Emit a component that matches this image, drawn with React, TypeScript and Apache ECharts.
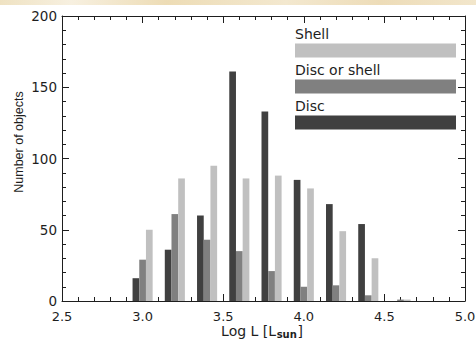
import React, { useEffect, useRef } from "react";
import * as echarts from "echarts";

// Data
const logL = [3.0, 3.2, 3.4, 3.6, 3.8, 4.0, 4.2, 4.4, 4.6];
const disc = [16, 36, 60, 161, 133, 85, 68, 54, 0];
const discOrShell = [29, 61, 43, 35, 21, 10, 11, 4, 1];
const shell = [50, 86, 95, 86, 88, 79, 49, 30, 1];

const barNames = ["Disc", "Disc or shell", "Shell"];
const barColors = ["#404040", "#808080", "#c0c0c0"];
const legendOrder = ["Shell", "Disc or shell", "Disc"];

const xTitleParts = ["Log L [L", "sun", "]"];
const yTitle = "Number of objects";

const xMin = 2.5;
const xMax = 5.0;
const xStep = 0.5;
const yMin = 0;
const yMax = 200;
const yStep = 50;

const FONT = "'DejaVu Sans', Verdana, sans-serif";
const FONT2 = "'Liberation Sans', Arial, Helvetica, sans-serif";
const INK = "#1e1e1e";

function measure(text: string, font: string): number {
  const c = document.createElement("canvas").getContext("2d");
  if (!c) return text.length * 8;
  c.font = font;
  return c.measureText(text).width;
}

export default function App() {
  const ref = useRef<HTMLDivElement>(null);

  useEffect(() => {
    if (!ref.current) return;
    const chart = echarts.init(ref.current, undefined, { renderer: "svg" });

    const seriesValues = [disc, discOrShell, shell];

    const axisCommon = {
      axisLine: { show: true, onZero: false, lineStyle: { color: INK, width: 1 } },
      axisTick: { show: true, inside: true, length: 7, lineStyle: { color: INK } },
      minorTick: { show: true, splitNumber: 5, length: 4, lineStyle: { color: INK } },
      splitLine: { show: false },
      minorSplitLine: { show: false },
    };

    const legendGraphics: any[] = [];
    legendOrder.forEach((name, i) => {
      const color = barColors[barNames.indexOf(name)];
      legendGraphics.push({
        type: "text",
        x: 295,
        y: 33.5 + i * 36,
        style: { text: name, fill: INK, font: `14px ${FONT}`, align: "left", verticalAlign: "middle" },
        z: 10,
      });
      legendGraphics.push({
        type: "rect",
        shape: { x: 295, y: 43.5 + i * 36, width: 161, height: 14 },
        style: { fill: color },
        z: 10,
      });
    });

    // x-axis title built from three pieces (main, subscript, main)
    const mainFont = `14px ${FONT}`;
    const subFont = `bold 10px ${FONT}`;
    const fonts = [mainFont, subFont, mainFont];
    const widths = xTitleParts.map((t, i) => measure(t, fonts[i]));
    const gap = 0.6;
    const total = widths.reduce((a, b) => a + b, 0) + gap * 2;
    let cx = 262 - total / 2;
    const titleGraphics: any[] = xTitleParts.map((t, i) => {
      const el = {
        type: "text",
        x: cx,
        y: i === 1 ? 334 : 331,
        style: { text: t, fill: INK, font: fonts[i], align: "left", verticalAlign: "middle" },
        z: 10,
      };
      cx += widths[i] + gap;
      return el;
    });

    chart.setOption({
      animation: false,
      backgroundColor: "#ffffff",
      textStyle: { fontFamily: FONT },
      grid: { left: 62, right: 11, top: 16, bottom: 41, containLabel: false, outerBoundsMode: "none" },
      xAxis: [
        {
          type: "value",
          min: xMin,
          max: xMax,
          interval: xStep,
          position: "bottom",
          ...axisCommon,
          axisLabel: {
            margin: 9,
            fontSize: 13,
            color: INK,
            fontFamily: FONT,
            formatter: (v: number) => v.toFixed(1),
          },
        },
        {
          type: "value",
          min: xMin,
          max: xMax,
          interval: xStep,
          position: "top",
          ...axisCommon,
          axisLabel: { show: false },
        },
      ],
      yAxis: [
        {
          type: "value",
          min: yMin,
          max: yMax,
          interval: yStep,
          position: "left",
          ...axisCommon,
          axisLabel: { margin: 5, fontSize: 13.5, color: INK, fontFamily: FONT },
        },
        {
          type: "value",
          min: yMin,
          max: yMax,
          interval: yStep,
          position: "right",
          ...axisCommon,
          axisLabel: { show: false },
        },
      ],
      series: barNames.map((name, si) => ({
        type: "bar",
        name,
        xAxisIndex: 0,
        yAxisIndex: 0,
        barWidth: 6.7,
        barGap: "0%",
        itemStyle: { color: barColors[si] },
        data: logL.map((x, i) => [x, seriesValues[si][i]]),
      })),
      graphic: [
        {
          type: "rect",
          shape: { x: 0, y: 0, width: 476, height: 5 },
          style: {
            fill: new echarts.graphic.LinearGradient(0, 0, 1, 0, [
              { offset: 0, color: "#efe2c2" },
              { offset: 0.15, color: "#f7f0e0" },
              { offset: 0.35, color: "#eddcb5" },
              { offset: 0.6, color: "#f3e8cf" },
              { offset: 0.8, color: "#eddcb8" },
              { offset: 1, color: "#f2e6cb" },
            ]),
          },
          z: 0,
        },
        ...titleGraphics,
        {
          type: "text",
          x: 18.5,
          y: 142,
          rotation: Math.PI / 2,
          style: {
            text: yTitle,
            fill: INK,
            font: `12.5px ${FONT2}`,
            align: "center",
            verticalAlign: "middle",
          },
          z: 10,
        },
        ...legendGraphics,
      ],
    });

    return () => chart.dispose();
  }, []);

  return (
    <div
      ref={ref}
      style={{ position: "fixed", left: 0, top: 0, width: 476, height: 342, background: "#ffffff" }}
    />
  );
}
